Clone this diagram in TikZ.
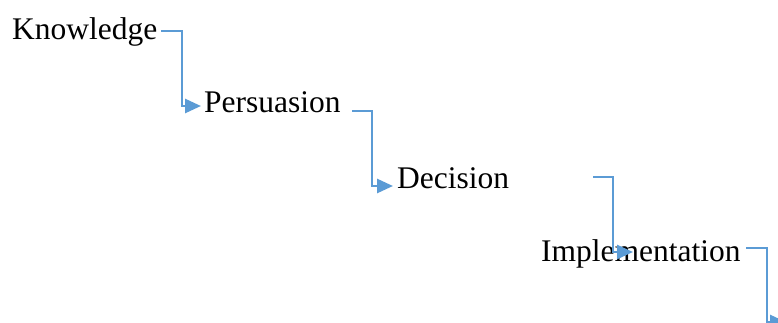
\documentclass[tikz,border=0pt]{standalone}
\usepackage{fontspec}
\setmainfont{Liberation Serif}
\usetikzlibrary{arrows.meta}
\definecolor{wordblue}{HTML}{5B9BD5}
\tikzset{
  stage/.style={inner sep=0pt, anchor=base west, font=\fontsize{31.5pt}{36pt}\selectfont},
  conn/.style={draw=wordblue, line width=2.7pt, -{Triangle[length=16pt,width=14pt]}}
}
\begin{document}
\begin{tikzpicture}[x=1pt,y=-1pt]
\useasboundingbox (0,0) rectangle (778,323);
\node[stage] (k) at (12,40) {Knowledge};
\node[stage] (p) at (204,113) {Persuasion};
\node[stage] (d) at (397,188) {Decision};
\node[stage] (i) at (541,261) {Implementation};
% connector start / end coordinates
\coordinate (k1) at (161,31);
\coordinate (k2) at (182,106);
\coordinate (k3) at (201,106);
\coordinate (p1) at (352,111);
\coordinate (p2) at (372,186);
\coordinate (p3) at (393,186);
\coordinate (d1) at (593,177);
\coordinate (d2) at (613,252);
\coordinate (d3) at (633,252);
\coordinate (i1) at (746,248);
\coordinate (i2) at (767,322);
\coordinate (i3) at (786,322);
\draw[conn] (k1) -| (k2) -- (k3);
\draw[conn] (p1) -| (p2) -- (p3);
\draw[conn] (d1) -| (d2) -- (d3);
\draw[conn] (i1) -| (i2) -- (i3);
\end{tikzpicture}
\end{document}
